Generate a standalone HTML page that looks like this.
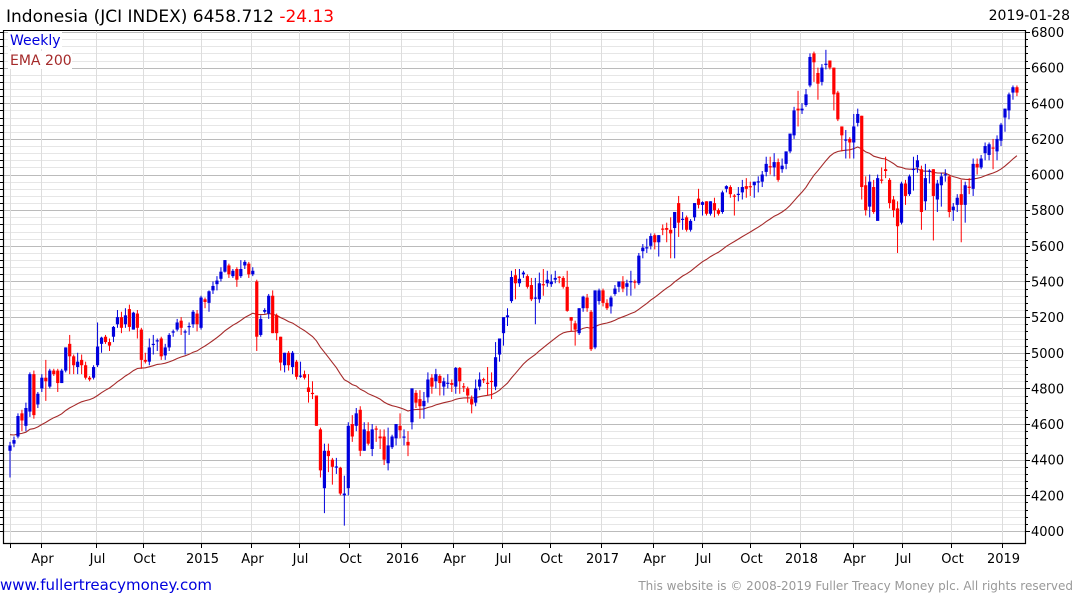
<!DOCTYPE html>
<html><head><meta charset="utf-8"><style>
body{margin:0;background:#fff;width:1075px;height:600px;overflow:hidden;font-family:"DejaVu Sans","Liberation Sans",sans-serif}
svg{position:absolute;left:0;top:0}
</style></head><body>
<svg id="chart" width="1075" height="600">
<text x="6" y="22" font-size="17" fill="#000">Indonesia (JCI INDEX) 6458.712 <tspan fill="#f00">-24.13</tspan></text>
<text x="1070" y="20" font-size="14" fill="#000" text-anchor="end">2019-01-28</text>
<g id="grid"></g><g id="ema"></g><g id="candles"></g><g id="axes"></g>
<rect x="8" y="31" width="54" height="18" fill="#fff"/>
<text x="10" y="45" font-size="14" fill="#00d">Weekly</text>
<rect x="8" y="51" width="64" height="18" fill="#fff"/>
<text x="10" y="65" font-size="14" fill="#a52a2a">EMA 200</text>
<text x="0" y="590" font-size="15" fill="#00d">www.fullertreacymoney.com</text>
<text x="1073" y="590" font-size="12" fill="#999" text-anchor="end">This website is © 2008-2019 Fuller Treacy Money plc. All rights reserved</text>
</svg>
<script>
const opens=[4450,4490,4530,4660,4590,4670,4880,4710,4800,4860,4810,4900,4900,4830,4900,5050,4980,4920,4960,4930,4860,4860,4930,5050,5090,5060,5090,5160,5200,5160,5245,5130,5220,5130,4960,4950,5045,5065,5080,4985,5030,5115,5130,5180,5115,5145,5160,5220,5140,5300,5280,5350,5385,5415,5455,5490,5430,5470,5430,5490,5500,5440,5400,5100,5230,5220,5320,5210,5090,4930,5000,4920,4950,4870,4880,4805,4775,4760,4570,4240,4450,4400,4360,4355,4200,4240,4600,4590,4680,4450,4560,4460,4575,4530,4530,4380,4470,4520,4590,4525,4500,4610,4775,4740,4700,4750,4860,4840,4870,4810,4828,4830,4810,4915,4812,4800,4740,4720,4810,4852,4832,4842,4810,4990,5110,5200,5290,5435,5390,5440,5430,5380,5305,5300,5385,5390,5385,5410,5427,5420,5370,5200,5165,5110,5250,5310,5230,5030,5290,5350,5280,5260,5330,5370,5400,5370,5398,5400,5390,5570,5588,5600,5660,5620,5697,5700,5690,5700,5840,5748,5760,5690,5760,5865,5830,5850,5780,5840,5800,5790,5920,5930,5882,5888,5900,5935,5935,5940,5958,5960,6015,6047,6040,6070,6030,6060,6130,6220,6370,6360,6390,6500,6680,6570,6520,6618,6640,6600,6460,6270,6193,6200,6180,6290,6330,5940,5820,5930,5740,5972,6030,5970,5860,5810,5730,5950,5890,6028,6040,6030,5850,6018,6030,5860,5940,5998,5990,5800,5830,5890,5830,5932,5920,6060,6040,6120,6110,6152,6130,6190,6320,6360,6460,6490];
const closes=[4480,4510,4645,4620,4690,4880,4650,4770,4860,4840,4900,4880,4830,4900,5030,4980,4930,4950,4930,4860,4850,4920,5035,5085,5060,5040,5145,5200,5140,5210,5145,5225,5140,4960,4950,5030,5050,5070,4980,5030,5100,5120,5170,5140,5120,5150,5230,5160,5310,5285,5345,5375,5405,5455,5520,5440,5460,5410,5470,5510,5440,5460,5090,5190,5240,5320,5110,5110,4945,5000,4930,5000,4865,4872,4860,4780,4770,4590,4340,4450,4420,4360,4362,4210,4210,4590,4530,4660,4450,4570,4490,4570,4570,4520,4400,4480,4530,4600,4565,4530,4480,4800,4720,4700,4730,4850,4810,4880,4830,4840,4832,4820,4915,4840,4808,4760,4710,4800,4850,4848,4828,4838,4975,5080,5200,5210,5425,5390,5415,5450,5370,5300,5310,5390,5380,5410,5400,5420,5423,5370,5235,5180,5130,5250,5315,5250,5020,5350,5350,5280,5250,5310,5360,5400,5360,5390,5402,5395,5545,5590,5592,5655,5620,5660,5693,5690,5670,5790,5730,5752,5690,5740,5840,5830,5845,5780,5850,5800,5780,5900,5935,5890,5878,5892,5930,5920,5930,5960,5962,6000,6060,6043,6070,5970,6050,6130,6230,6360,6360,6370,6450,6660,6630,6510,6600,6622,6600,6450,6310,6220,6197,6180,6270,6340,5930,5800,5960,5790,5980,5968,6020,5840,5800,5710,5950,5880,5990,6032,6080,5790,5980,6022,5880,5950,5990,6002,5790,5820,5870,5830,5940,5928,6060,6040,6090,6160,6170,6148,6200,6280,6370,6450,6490,6460];
const highs=[4500,4530,4660,4680,4720,4890,4900,4780,4880,4960,4910,4910,4910,4910,5030,5100,4990,5000,4990,4950,4870,4930,5170,5090,5100,5080,5150,5240,5230,5250,5270,5230,5240,5140,5000,5080,5100,5080,5090,5050,5110,5130,5190,5200,5130,5170,5240,5240,5320,5310,5350,5400,5430,5480,5520,5500,5470,5480,5520,5520,5510,5480,5410,5210,5250,5330,5350,5220,5090,5000,5010,5010,4960,4950,4900,4880,4840,4760,4580,4490,4490,4410,4410,4360,4310,4610,4650,4690,4700,4610,4610,4600,4590,4570,4570,4580,4540,4600,4660,4570,4560,4800,4790,4790,4780,4890,4880,4910,4880,4860,4880,4850,4920,4920,4830,4810,4760,4850,4890,4860,4920,4890,5060,5080,5180,5250,5460,5470,5470,5460,5440,5420,5420,5450,5470,5460,5440,5460,5430,5430,5460,5200,5180,5250,5320,5330,5240,5350,5360,5360,5300,5320,5380,5400,5430,5410,5460,5410,5560,5610,5640,5670,5670,5660,5720,5730,5760,5790,5880,5790,5770,5750,5840,5920,5850,5850,5850,5870,5810,5910,5940,5940,5890,5930,5970,5980,5960,5960,5990,6020,6100,6100,6120,6090,6090,6130,6200,6380,6470,6400,6480,6680,6690,6600,6620,6700,6640,6600,6470,6270,6250,6210,6340,6370,6330,5990,6000,5970,6000,6040,6100,5980,5880,5850,5960,5970,6000,6100,6110,6050,6060,6030,6030,5970,6010,6030,6000,5840,5890,5970,5960,5980,6090,6090,6110,6180,6180,6200,6220,6290,6370,6460,6500,6500];
const lows=[4300,4470,4520,4560,4560,4640,4630,4690,4780,4730,4800,4870,4780,4830,4890,4880,4880,4880,4880,4850,4840,4850,4920,5000,5050,5010,5060,5140,5110,5140,5120,5130,5080,4910,4940,4930,4990,5010,4960,4960,5010,5090,5120,5100,4990,5100,5140,5120,5130,5250,5230,5330,5350,5400,5450,5420,5420,5370,5420,5470,5420,5430,5010,5090,5220,5190,5110,5070,4900,4890,4900,4880,4850,4860,4850,4720,4740,4590,4300,4100,4330,4260,4320,4200,4030,4200,4500,4560,4420,4450,4480,4420,4500,4460,4370,4340,4460,4480,4520,4480,4420,4570,4690,4630,4630,4720,4770,4800,4760,4760,4800,4780,4770,4770,4780,4720,4660,4700,4790,4830,4760,4740,4790,4950,5040,5150,5280,5300,5370,5420,5360,5290,5160,5280,5320,5370,5370,5390,5390,5360,5230,5120,5040,5100,5230,5230,5010,5020,5270,5260,5240,5220,5320,5340,5340,5320,5320,5360,5380,5530,5560,5580,5580,5540,5660,5620,5530,5530,5650,5690,5680,5680,5740,5810,5770,5770,5770,5760,5770,5780,5900,5870,5770,5850,5860,5870,5880,5870,5900,5930,5990,6000,5990,5960,6010,6030,6120,6200,6270,6340,6380,6490,6520,6420,6500,6590,6590,6360,6300,6130,6090,6090,6090,6270,5860,5770,5760,5780,5770,5950,5980,5810,5760,5560,5720,5830,5880,5910,6010,5690,5800,5950,5630,5790,5820,5960,5760,5740,5790,5620,5730,5890,5880,6000,6030,6080,6080,6030,6080,6160,6240,6310,6420,6440];
const yTicks=[4000,4200,4400,4600,4800,5000,5200,5400,5600,5800,6000,6200,6400,6600,6800];
const xTickLabels=["","Apr","Jul","Oct","2015","Apr","Jul","Oct","2016","Apr","Jul","Oct","2017","Apr","Jul","Oct","2018","Apr","Jul","Oct","2019"];
const xTickWeeks=[0,7.8,21.6,33.4,48,60.5,72.6,85.2,98.2,111.3,123.6,135.6,148.5,161.6,173.9,186,198.5,211.8,224.1,236.4,249.2];
const emaSeed=4540;

const NS="http://www.w3.org/2000/svg";
const L=3,R=1025,T=30,B=543;
const yS=v=>32+(6800-v)/200*35.64;
const xS=i=>10+i*3.98;
function mk(tag,attrs,parent){const el=document.createElementNS(NS,tag);for(const k in attrs)el.setAttribute(k,attrs[k]);parent.appendChild(el);return el;}
const grid=document.getElementById('grid'),axes=document.getElementById('axes'),cg=document.getElementById('candles'),eg=document.getElementById('ema');
for(let v=4000;v<=6800;v+=40){const y=Math.round(yS(v))+0.5;
 const ln=mk('line',{x1:L,x2:R,y1:y,y2:y,stroke:(v%200===0)?'#bbb':'#e6e6e6','stroke-width':1},grid);
 
 
 const tk=mk('line',{x1:R,x2:R+((v%200===0)?5:3),y1:y,y2:y,stroke:'#000'},axes);
 
 
 const tk2=mk('line',{x1:L-3,x2:L,y1:y,y2:y,stroke:'#000'},axes);
 
 
}
yTicks.forEach(v=>{const t=mk('text',{x:R+6,y:yS(v)+5,'font-size':13,fill:'#000'},axes);t.textContent=v;
 
 });
xTickWeeks.forEach((w,k)=>{const x=Math.round(xS(w))+0.5;
 const g=mk('line',{x1:x,x2:x,y1:T,y2:B,stroke:'#ddd'},grid);
 
 
 const tk=mk('line',{x1:x,x2:x,y1:B,y2:B+5,stroke:'#000'},axes);
 
 
 if(xTickLabels[k]){const t=mk('text',{x:x+1,y:563,'font-size':13,fill:'#000','text-anchor':'middle'},axes);t.textContent=xTickLabels[k];
 
 }
});
const fr=mk('path',{d:`M${L+0.5},${T} V${B+0.5} H${R+0.5} V${T}`,fill:'none',stroke:'#000','stroke-width':1.2},axes);


const topBorder=mk('line',{x1:L,x2:R,y1:T+0.5,y2:T+0.5,stroke:'#000'},axes);


let emaVal=emaSeed;const pts=[];const alpha=2/41;
closes.forEach((c,i)=>{if(i>0)emaVal=emaVal+alpha*(c-emaVal);pts.push(xS(i).toFixed(1)+','+yS(emaVal).toFixed(1));});
const pl=mk('polyline',{points:pts.join(' '),fill:'none',stroke:'#a52a2a','stroke-width':1.1},eg);


closes.forEach((c,i)=>{const o=opens[i],col=c<o?'#f00':'#00d',x=xS(i);
 const w=mk('line',{x1:x,x2:x,y1:yS(highs[i]),y2:yS(lows[i]),stroke:col,'stroke-width':1},cg);
 
 
 const y1=yS(Math.max(o,c)),y2=yS(Math.min(o,c));
 const b=mk('rect',{x:x-1.6,y:y1,width:3.2,height:Math.max(1.2,y2-y1),fill:col},cg);
 
 
});
</script>
</body></html>
